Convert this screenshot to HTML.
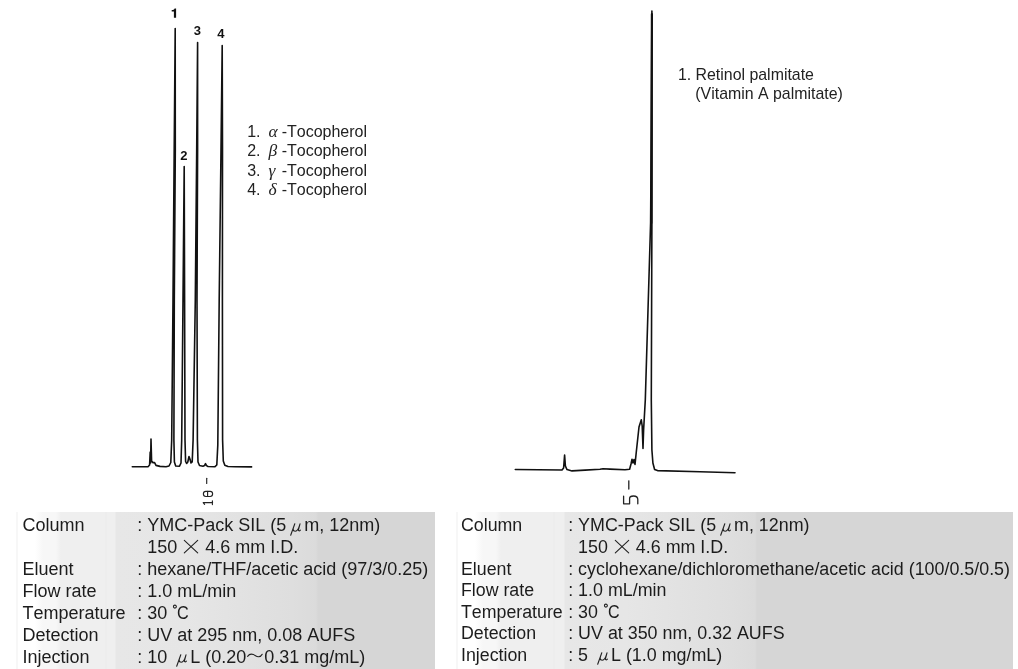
<!DOCTYPE html>
<html>
<head>
<meta charset="utf-8">
<title>Chromatograms</title>
<style>
html,body{margin:0;padding:0;background:#fff;}
body{font-kerning:none;width:1018px;height:669px;position:relative;overflow:hidden;font-family:"Liberation Sans",sans-serif;color:#1a1a1a;}
#chart{position:absolute;left:0;top:0;width:1018px;height:669px;}
.pk{position:absolute;font-weight:bold;font-size:13px;line-height:13px;color:#111;}
.leg{position:absolute;font-size:16px;line-height:19px;height:19px;white-space:pre;color:#222;}
.lr{font-size:15.9px;}
.gk{display:inline-block;width:16.7px;}
.gk i{font-family:"Liberation Serif",serif;font-style:italic;font-size:17.5px;line-height:1px;margin-left:3.6px;}
.panel{position:absolute;top:512px;height:157px;}
#p1{left:16px;width:419px;background:linear-gradient(to right,#f7f7f7 0,#f7f7f7 2.5px,#fff 2.5px,#fff 19px,#fbfbfb 23px,#f7f7f7 27px,#f7f7f7 40px,#efefef 45px,#efefef 89px,#ebebeb 90px,#efefef 91px,#efefef 99px,#e7e7e7 100px,#e6e6e6 170px,#dedede 276px,#dbdbdb 300px,#d6d6d6 302px,#d6d6d6 100%);}
#p2{left:456px;width:557px;background:linear-gradient(to right,#f7f7f7 0,#f7f7f7 2.5px,#fff 2.5px,#fff 19px,#fbfbfb 23px,#f7f7f7 27px,#f7f7f7 40px,#efefef 45px,#efefef 97px,#ebebeb 98px,#efefef 99px,#efefef 108px,#e7e7e7 109px,#e6e6e6 170px,#dedede 276px,#dbdbdb 299px,#d6d6d6 301px,#d6d6d6 100%);}
.g{fill:none;stroke:#222;stroke-width:1.1;stroke-linecap:round;stroke-linejoin:round;overflow:visible;}
.cc{display:inline-block;transform:scaleX(0.9);transform-origin:0 50%;}
.rr{font-size:17.77px !important;}
.rv{font-size:17.86px !important;}
#txt{position:absolute;left:0;top:0;width:1018px;height:669px;will-change:transform;}
.row{position:absolute;font-size:18px;line-height:21.85px;height:21.85px;white-space:pre;color:#1c1c1c;}
</style>
</head>
<body>
<svg id="chart" width="1018" height="669" viewBox="0 0 1018 669" fill="none" stroke="#111" stroke-width="1.6" stroke-linejoin="round" stroke-linecap="round">
<!-- left chromatogram -->
<path d="M132.3 466.7 L148 466.7 L149.6 465 L150.2 452 L150.6 463 L151 439 L151.6 461 L153 462.6 L154.6 462.6 L156 465.4 L160 466.4 L166 466.7 L169 466 L170.8 462.5 L171.7 440 L173.0 300 L174.2 150 L175.2 28.5 L175.3 150 L174.3 300 L173.9 440 L174.4 462 L175.7 466 L179.5 466.2 L181 463 L181.7 440 L183 300 L184.2 166.5 L184.6 300 L185 440 L185.6 461.5 L186.6 463.5 L187.8 462 L189 456.5 L190 459.2 L191 463 L192.2 462 L193.1 440 L195.3 300 L196.7 150 L197.6 42.5 L197.6 150 L197.0 300 L197.4 440 L198 462 L199.5 465.5 L203 466.2 L204.5 465.6 L205.5 463.6 L206.5 465.6 L208 466.5 L215 466.7 L216.8 465 L217.8 445 L219.2 300 L221 150 L222.2 45.5 L222.5 150 L222.4 300 L222.6 440 L223.3 461 L224.8 465.2 L228 466.5 L235 466.7 L251.6 466.9"/>
<!-- left axis label "10 -" (plotter font, rotated) -->
<g stroke-width="1.15" stroke="#222">
<path d="M206.7 478.2 L206.7 483.4"/>
<rect x="203.4" y="491.3" width="9.2" height="5.2" rx="2.4" ry="2.4"/>
<path d="M207.6 491.4 L207.6 496.4"/>
<path d="M203.2 502.6 L212.6 502.6 M203.2 502.6 L204.6 504.4 M212.4 500.8 L212.4 504.6"/>
</g>
<!-- right chromatogram -->
<path d="M515.3 469.5 L562 470 L563.6 468 L564.6 455 L565.4 466 L567 469.6 L572 470.9 L585 470.1 L600 469.3 L603 468.7 L610 469.1 L625 469.7 L629.6 469.3 L631 464 L632 459.2 L633 463 L634 459.6 L635 464.4 L636.5 450 L639 427 L641.3 419.8 L642.2 426 L643 448.5 L643.6 430 L645.3 400 L648 310 L650.6 223 L651.3 130 L651.9 11 L652.0 130 L651.9 223 L651.6 310 L651.3 400 L651.9 450 L652.9 463 L654.6 469.5 L657.5 470.6 L700 471.7 L735 472.7"/>
<path d="M651.3 223 L651.6 120 L651.9 14" stroke-width="2.2"/>
<!-- right axis label "5 -" -->
<g stroke-width="1.3" stroke="#222">
<path d="M628.8 480.8 L628.8 489"/>
<path d="M623.6 496.2 L623.6 503.8 L629.6 503.8 L629.6 498.6 C629.6 496.8 631.2 496 633.4 496 C636.2 496 637.8 497 637.8 499.6 L637.8 503.8"/>
</g>
<!-- peak label 1 (no foot) -->
<path d="M176.1 8.4 L176.1 17.7 L173.9 17.7 L173.9 11.4 L171.7 11.4 L171.7 10 C173.3 9.9 174.2 9.4 174.6 8.4 Z" fill="#111" stroke="none"/>
</svg>
<div id="txt">
<div class="pk" style="left:180.3px;top:149.2px;">2</div>
<div class="pk" style="left:193.7px;top:23.5px;">3</div>
<div class="pk" style="left:217.2px;top:27.0px;">4</div>
<div class="leg" style="left:247.2px;top:121.96px;">1. <span class="gk"><i>α</i></span>-Tocopherol</div>
<div class="leg" style="left:247.2px;top:141.23px;">2. <span class="gk"><i>β</i></span>-Tocopherol</div>
<div class="leg" style="left:247.2px;top:160.50px;">3. <span class="gk"><i>γ</i></span>-Tocopherol</div>
<div class="leg" style="left:247.2px;top:179.77px;">4. <span class="gk"><i>δ</i></span>-Tocopherol</div>
<div class="leg lr" style="left:677.9px;top:64.66px;">1. Retinol palmitate</div>
<div class="leg lr" style="left:695.3px;top:84.06px;">(Vitamin A palmitate)</div>
<div class="panel" id="p1"></div>
<div class="panel" id="p2"></div>
<div class="row rl" style="left:22.5px;top:515.40px;">Column</div>
<div class="row rl" style="left:137.2px;top:515.40px;">: YMC-Pack SIL (5<svg class="g" width="18" height="13" viewBox="0 0 18 13" style="vertical-align:-4.25px"><path d="M8.8 0.7 L4.7 12.2 M7.3 5 C6.5 8.7 9.6 8.8 11.3 7.1 C12.3 6.1 13.1 4 14.0 0.8 L12.5 6.6 C12.2 8 13.3 8.3 14.4 7.1"/></svg>m, 12nm)</div>
<div class="row rl" style="left:137.2px;top:537.27px;">  150 <svg class="g" width="18" height="13.2" viewBox="0 0 18 13.2" style="vertical-align:0"><path d="M2.3 0.3 L15.7 12.9 M15.7 0.3 L2.3 12.9"/></svg> 4.6 mm I.D.</div>
<div class="row rl" style="left:22.5px;top:559.15px;">Eluent</div>
<div class="row rl" style="left:137.2px;top:559.15px;">: hexane/THF/acetic acid (97/3/0.25)</div>
<div class="row rl" style="left:22.5px;top:581.02px;">Flow rate</div>
<div class="row rl" style="left:137.2px;top:581.02px;">: 1.0 mL/min</div>
<div class="row rl" style="left:22.5px;top:602.90px;">Temperature</div>
<div class="row rl" style="left:137.2px;top:602.90px;">: 30 <svg class="g" width="4.6" height="14" viewBox="0 0 4.6 14" style="vertical-align:0"><circle cx="2.9" cy="1.6" r="1.5"/></svg><span class="cc">C</span></div>
<div class="row rl" style="left:22.5px;top:624.77px;">Detection</div>
<div class="row rl" style="left:137.2px;top:624.77px;">: UV at 295 nm, 0.08 AUFS</div>
<div class="row rl" style="left:22.5px;top:646.65px;">Injection</div>
<div class="row rl" style="left:137.2px;top:646.65px;">: 10 <svg class="g" width="18" height="13" viewBox="0 0 18 13" style="vertical-align:-4.25px"><path d="M8.8 0.7 L4.7 12.2 M7.3 5 C6.5 8.7 9.6 8.8 11.3 7.1 C12.3 6.1 13.1 4 14.0 0.8 L12.5 6.6 C12.2 8 13.3 8.3 14.4 7.1"/></svg>L (0.20<svg class="g" width="18" height="5" viewBox="0 0 18 5" style="vertical-align:4.3px"><path d="M1.6 3.3 C3.2 1.2 5.2 0.6 7.4 1.6 C9.2 2.4 10.6 3.9 12.6 3.8 C14.4 3.7 15.6 2.6 16.2 1.3"/></svg>0.31 mg/mL)</div>
<div class="row rr" style="left:461.0px;top:515.40px;">Column</div>
<div class="row rr rv" style="left:568.2px;top:515.40px;">: YMC-Pack SIL (5<svg class="g" width="18" height="13" viewBox="0 0 18 13" style="vertical-align:-4.25px"><path d="M8.8 0.7 L4.7 12.2 M7.3 5 C6.5 8.7 9.6 8.8 11.3 7.1 C12.3 6.1 13.1 4 14.0 0.8 L12.5 6.6 C12.2 8 13.3 8.3 14.4 7.1"/></svg>m, 12nm)</div>
<div class="row rr rv" style="left:568.2px;top:537.00px;">  150 <svg class="g" width="18" height="13.2" viewBox="0 0 18 13.2" style="vertical-align:0"><path d="M2.3 0.3 L15.7 12.9 M15.7 0.3 L2.3 12.9"/></svg> 4.6 mm I.D.</div>
<div class="row rr" style="left:461.0px;top:558.60px;">Eluent</div>
<div class="row rr rv" style="left:568.2px;top:558.60px;">: cyclohexane/dichloromethane/acetic acid (100/0.5/0.5)</div>
<div class="row rr" style="left:461.0px;top:580.20px;">Flow rate</div>
<div class="row rr rv" style="left:568.2px;top:580.20px;">: 1.0 mL/min</div>
<div class="row rr" style="left:461.0px;top:601.80px;">Temperature</div>
<div class="row rr rv" style="left:568.2px;top:601.80px;">: 30 <svg class="g" width="4.6" height="14" viewBox="0 0 4.6 14" style="vertical-align:0"><circle cx="2.9" cy="1.6" r="1.5"/></svg><span class="cc">C</span></div>
<div class="row rr" style="left:461.0px;top:623.40px;">Detection</div>
<div class="row rr rv" style="left:568.2px;top:623.40px;">: UV at 350 nm, 0.32 AUFS</div>
<div class="row rr" style="left:461.0px;top:645.00px;">Injection</div>
<div class="row rr rv" style="left:568.2px;top:645.00px;">: 5 <svg class="g" width="18" height="13" viewBox="0 0 18 13" style="vertical-align:-4.25px"><path d="M8.8 0.7 L4.7 12.2 M7.3 5 C6.5 8.7 9.6 8.8 11.3 7.1 C12.3 6.1 13.1 4 14.0 0.8 L12.5 6.6 C12.2 8 13.3 8.3 14.4 7.1"/></svg>L (1.0 mg/mL)</div>
</div>
</body>
</html>
